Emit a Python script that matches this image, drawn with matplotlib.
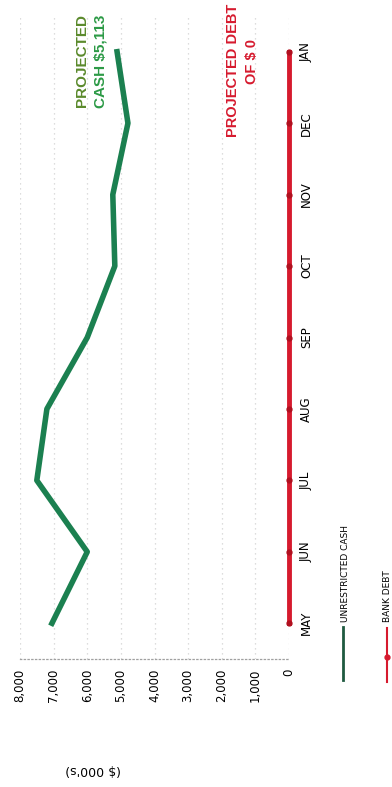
import matplotlib
matplotlib.use("Agg")
import matplotlib.pyplot as plt
from matplotlib.lines import Line2D
from matplotlib.ticker import FuncFormatter

# chart is drawn turned on its side: months run bottom -> top, values right -> left
months = ["MAY", "JUN", "JUL", "AUG", "SEP", "OCT", "NOV", "DEC", "JAN"]
unrestricted_cash = [7050, 6000, 7500, 7200, 6000, 5180, 5240, 4790, 5113]
bank_debt = [0, 0, 0, 0, 0, 0, 0, 0, 0]
value_ticks = [8000, 7000, 6000, 5000, 4000, 3000, 2000, 1000, 0]

green = "#1b8050"
red = "#d61a2e"
W, H = 392, 787

fig = plt.figure(figsize=(W / 100, H / 100), dpi=100)
ax = fig.add_axes([20 / W, 1 - 659 / H, 269 / W, (659 - 16) / H])

pos = list(range(len(months)))
ax.plot(unrestricted_cash, pos, color=green, lw=4, zorder=3)
ax.plot(bank_debt, pos, color=red, lw=3.5, marker="o", ms=3.5,
        markerfacecolor="#b0101f", markeredgecolor="#b0101f", clip_on=False, zorder=4)

ax.set_xlim(8000, 0)
ax.set_ylim(-0.5, len(months) - 0.5)
ax.set_xticks(value_ticks)
ax.xaxis.set_major_formatter(FuncFormatter(lambda v, p: f"{int(v):,}"))
ax.set_yticks(pos)
ax.set_yticklabels(months)
ax.yaxis.tick_right()
ax.tick_params(axis="x", length=0, pad=7, labelsize=8.5, labelrotation=90)
ax.tick_params(axis="y", length=0, pad=8, labelsize=8.5, labelrotation=90)
for lbl in ax.get_yticklabels():
    lbl.set_va("center")

ax.grid(axis="x", color="#d2d2d2", ls=(0, (1, 3)), lw=0.9)
for s in ["top", "left", "right"]:
    ax.spines[s].set_visible(False)
ax.spines["bottom"].set_linestyle((0, (1, 2)))
ax.spines["bottom"].set_color("#a0a0a0")
ax.spines["bottom"].set_linewidth(0.9)

# axis title (upside down after the turn)
fig.text(93 / W, 1 - 770 / H, "($ 000's)", rotation=180, ha="center", va="center", fontsize=9)

# notes
bold = dict(rotation=90, fontsize=11, fontweight="bold", family="Liberation Sans")
fig.text(82 / W, 1 - 107 / H, "PROJECTED", color="#5b8a2c", ha="center", va="bottom", **bold)
fig.text(101 / W, 1 - 108 / H, "CASH $5,113", color="#2c9a46", ha="center", va="bottom", **bold)
bold["fontsize"] = 10.5
fig.text(233 / W, 1 - 70 / H, "PROJECTED DEBT", color=red, ha="center", va="center", **bold)
fig.text(252 / W, 1 - 62 / H, "OF $ 0", color=red, ha="center", va="center", **bold)

# legend, turned as well
fig.add_artist(Line2D([343 / W, 343 / W], [1 - 680 / H, 1 - 627 / H], color="#1f5a40", lw=2))
fig.text(345 / W, 1 - 622 / H, "UNRESTRICTED CASH", rotation=90, fontsize=6.5,
         ha="center", va="bottom")
fig.add_artist(Line2D([387 / W, 387 / W], [1 - 682 / H, 1 - 628 / H], color=red, lw=1.5))
fig.add_artist(Line2D([387 / W], [1 - 657 / H], color=red, marker="o", ms=3.5))
fig.text(387 / W, 1 - 622 / H, "BANK DEBT", rotation=90, fontsize=6.5,
         ha="center", va="bottom")

fig.savefig("out.png", dpi=100)
